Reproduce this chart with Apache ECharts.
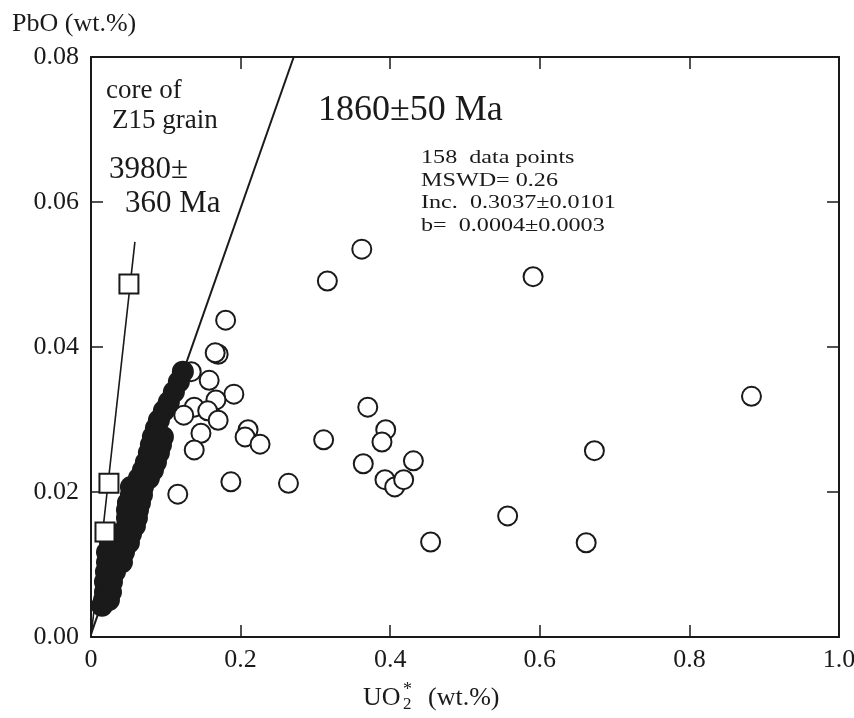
<!DOCTYPE html>
<html>
<head>
<meta charset="utf-8">
<script src="https://cdn.jsdelivr.net/npm/echarts@6/dist/echarts.min.js"></script>
<style>
  html, body { margin: 0; padding: 0; background: #fff; }
  #chart { width: 854px; height: 718px; }
</style>
</head>
<body>
<div id="chart"></div>
<script>
// tick values
const xTicks = [0, 0.2, 0.4, 0.6, 0.8, 1.0];
const yTicks = [0, 0.02, 0.04, 0.06, 0.08];

// isochron lines (UO2*, PbO)
const line1860 = [[0, 0.0004], [0.271, 0.08]];
const line3980 = [[0, 0], [0.0587, 0.0545]];

// core of Z15 grain
const squares = [[0.0507, 0.0487], [0.0240, 0.0212], [0.0187, 0.0145]];

// open circles (off the isochron)
const openCircles = [
  [0.362, 0.0535], [0.316, 0.0491], [0.591, 0.0497], [0.883, 0.0332],
  [0.180, 0.0437], [0.170, 0.0390], [0.166, 0.0392], [0.134, 0.0366],
  [0.158, 0.0354], [0.191, 0.0335], [0.167, 0.0327], [0.138, 0.0317],
  [0.124, 0.0306], [0.156, 0.0312], [0.170, 0.0299], [0.147, 0.0281],
  [0.138, 0.0258], [0.210, 0.0286], [0.206, 0.0276], [0.226, 0.0266],
  [0.311, 0.0272], [0.187, 0.0214], [0.264, 0.0212], [0.116, 0.0197],
  [0.370, 0.0317], [0.394, 0.0286], [0.389, 0.0269], [0.364, 0.0239],
  [0.431, 0.0243], [0.393, 0.0217], [0.406, 0.0207], [0.418, 0.0217],
  [0.454, 0.0131], [0.557, 0.0167], [0.662, 0.0130], [0.673, 0.0257]
];

// filled circles (on the 1860 Ma isochron)
const filledCircles = [
  [0.1228, 0.0366], [0.1175, 0.0352], [0.1108, 0.0338], [0.1041, 0.0324],
  [0.0975, 0.0312], [0.0908, 0.0299], [0.0868, 0.0288], [0.0828, 0.0276],
  [0.0961, 0.0276], [0.0801, 0.0265], [0.0935, 0.0265], [0.0774, 0.0254],
  [0.0908, 0.0254], [0.0734, 0.0241], [0.0868, 0.0241], [0.0694, 0.0230],
  [0.0828, 0.0230], [0.0641, 0.0219], [0.0774, 0.0219], [0.0534, 0.0207],
  [0.0694, 0.0207], [0.0534, 0.0196], [0.0681, 0.0196], [0.0494, 0.0185],
  [0.0654, 0.0185], [0.0481, 0.0175], [0.0628, 0.0175], [0.0481, 0.0164],
  [0.0614, 0.0164], [0.0481, 0.0153], [0.0587, 0.0153], [0.0294, 0.0142],
  [0.0427, 0.0142], [0.0534, 0.0142], [0.0254, 0.0130], [0.0374, 0.0130],
  [0.0507, 0.0130], [0.0214, 0.0117], [0.0334, 0.0117], [0.0441, 0.0117],
  [0.0214, 0.0103], [0.0320, 0.0103], [0.0414, 0.0103], [0.0200, 0.0090],
  [0.0320, 0.0090], [0.0187, 0.0076], [0.0280, 0.0076], [0.0187, 0.0062],
  [0.0267, 0.0062], [0.0174, 0.0051], [0.0240, 0.0051], [0.0147, 0.0043]
];

const FONT = "'Liberation Serif', 'Times New Roman', serif";
const INK = '#1a1a1a';

const chart = echarts.init(document.getElementById('chart'));

const axisBase = {
  type: 'value',
  axisLine: { show: true, onZero: false, lineStyle: { color: INK, width: 2 } },
  axisTick: { show: true, inside: true, length: 12, lineStyle: { color: INK, width: 1.5 } },
  splitLine: { show: false }
};

function txt(text, x, y, size, extra) {
  return Object.assign({
    type: 'text', x: x, y: y,
    style: { text: text, font: size + 'px ' + FONT, fill: INK, textAlign: 'left', textVerticalAlign: 'middle' }
  }, extra || {});
}

chart.setOption({
  backgroundColor: '#fff',
  animation: false,
  grid: { left: 91, right: 15, top: 57, bottom: 81, outerBoundsMode: 'none', containLabel: false },
  xAxis: [
    Object.assign({}, axisBase, {
      min: xTicks[0], max: xTicks[xTicks.length - 1], interval: 0.2, position: 'bottom',
      axisLabel: {
        margin: 10, color: INK, fontFamily: FONT, fontSize: 26,
        formatter: v => (v === 0 ? '0' : v.toFixed(1))
      }
    }),
    Object.assign({}, axisBase, {
      min: xTicks[0], max: xTicks[xTicks.length - 1], interval: 0.2, position: 'top',
      axisLabel: { show: false }
    })
  ],
  yAxis: [
    Object.assign({}, axisBase, {
      min: yTicks[0], max: yTicks[yTicks.length - 1], interval: 0.02, position: 'left',
      axisLabel: { margin: 12, color: INK, fontFamily: FONT, fontSize: 26, formatter: v => v.toFixed(2) }
    }),
    Object.assign({}, axisBase, {
      min: yTicks[0], max: yTicks[yTicks.length - 1], interval: 0.02, position: 'right',
      axisLabel: { show: false }
    })
  ],
  series: [
    {
      type: 'line', data: line1860, symbol: 'none', z: 1,
      lineStyle: { color: INK, width: 2 }
    },
    {
      type: 'line', data: line3980, symbol: 'none', z: 1,
      lineStyle: { color: INK, width: 1.6 }
    },
    {
      type: 'scatter', data: openCircles, symbol: 'circle', symbolSize: 19, z: 2,
      itemStyle: { color: '#fff', borderColor: INK, borderWidth: 2, opacity: 1 }
    },
    {
      type: 'scatter', data: filledCircles, symbol: 'circle', symbolSize: 22, z: 3,
      itemStyle: { color: INK, opacity: 1 }
    },
    {
      type: 'scatter', data: squares, symbol: 'rect', symbolSize: 19, z: 4,
      itemStyle: { color: '#fff', borderColor: INK, borderWidth: 2, opacity: 1 }
    }
  ],
  graphic: [
    txt('PbO (wt.%)', 12, 24, 26),
    txt('core of', 106, 91, 27),
    txt('Z15 grain', 112, 121, 27),
    txt('3980\u00b1', 109, 170, 31),
    txt('360 Ma', 125, 204, 31),
    txt('1860\u00b150 Ma', 318, 111, 36),
    txt('158  data points', 421, 158, 19, { scaleX: 1.27 }),
    txt('MSWD= 0.26', 421, 181, 19, { scaleX: 1.27 }),
    txt('Inc.  0.3037\u00b10.0101', 421, 203, 19, { scaleX: 1.27 }),
    txt('b=  0.0004\u00b10.0003', 421, 226, 19, { scaleX: 1.27 }),
    // x axis name: UO2* (wt.%)
    txt('UO', 363, 698, 26),
    txt('2', 403, 705, 17),
    txt('*', 403, 690, 18),
    txt('(wt.%)', 428, 698, 26)
  ]
});
</script>
</body>
</html>
